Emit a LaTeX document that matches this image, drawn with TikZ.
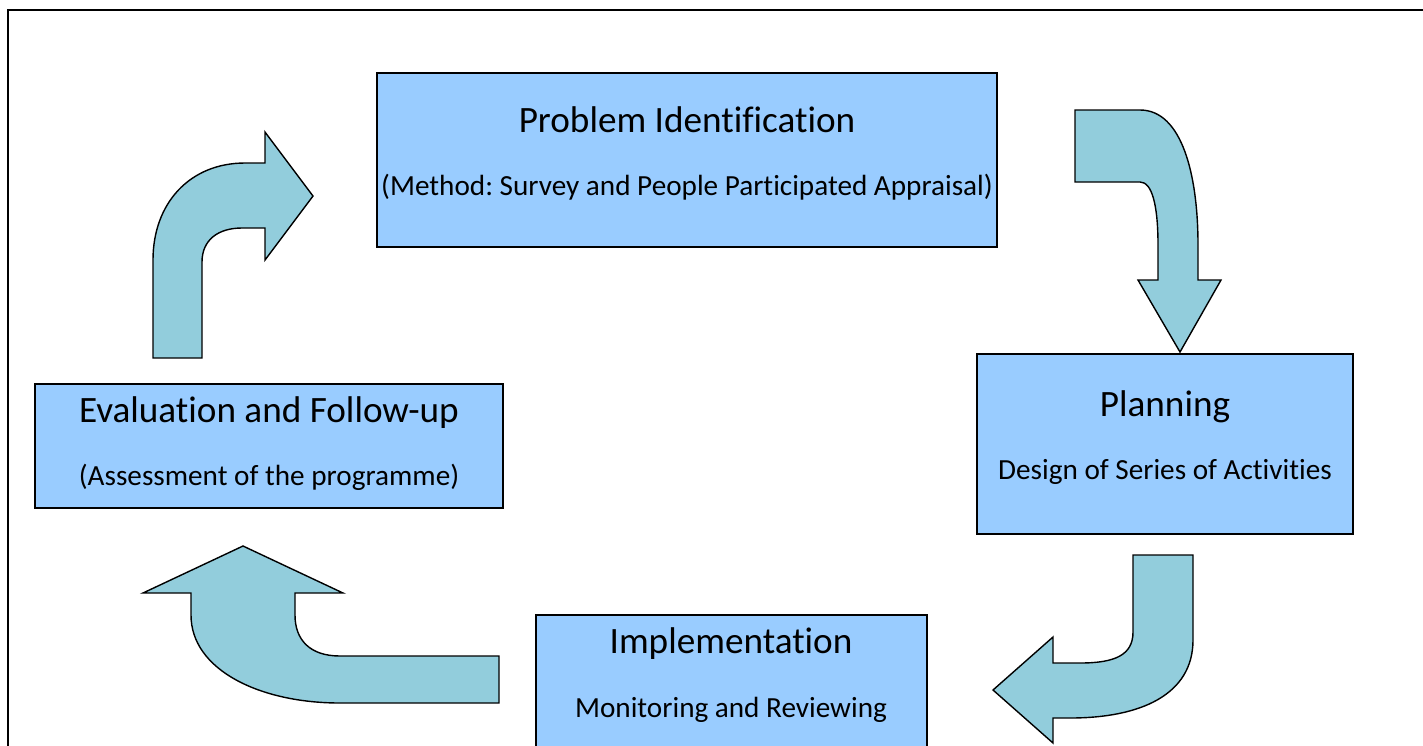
\documentclass[tikz,border=0pt]{standalone}
\usepackage{fontspec}
\setmainfont{Carlito}[Ligatures=NoCommon]
\frenchspacing
\definecolor{boxblue}{RGB}{153,204,255}
\definecolor{arrowteal}{RGB}{146,205,220}
\tikzset{
  stagebox/.style={draw=black, line width=1pt, fill=boxblue, rectangle, inner sep=0pt},
  titletext/.style={font=\fontsize{18.6}{22}\selectfont, inner sep=0pt},
  subtext/.style={font=\fontsize{14.6}{17}\selectfont, inner sep=0pt},
  bentarrow/.style={draw=black, line width=0.7pt, fill=arrowteal, line join=miter},
}
\begin{document}
\begin{tikzpicture}[x=0.5pt, y=-0.5pt]
\useasboundingbox (0,0) rectangle (1423,745);
\clip (0,0) rectangle (1423,745);
% outer frame
\draw[line width=1.3pt] (8,10) rectangle (1450,770);
% boxes
\node[stagebox, minimum width=310pt, minimum height=87pt] (prob) at (687,160) {};
\node[stagebox, minimum width=188pt, minimum height=90pt] (plan) at (1165,444) {};
\node[stagebox, minimum width=234pt, minimum height=62pt] (eval) at (269,446) {};
\node[stagebox, minimum width=195.5pt, minimum height=80pt] (impl) at (731.5,695) {};
% texts
\node[titletext] (probT) at (687,120) {Problem Identification};
\node[subtext] (probS) at (687,187) {(Method: Survey and People Participated Appraisal)};
\node[titletext] (planT) at (1165,407) {Planning};
\node[subtext] (planS) at (1165,472) {Design of Series of Activities};
\node[titletext] (evalT) at (269,413) {Evaluation and Follow-up};
\node[subtext] (evalS) at (269,477) {(Assessment of the programme)};
\node[titletext] (implT) at (731,644) {Implementation};
\node[subtext] (implS) at (731,710) {Monitoring and Reviewing};
% arrow 1: up then right
\draw[bentarrow] (153,358) -- (153,260) .. controls (153,203) and (190,163) .. (245,163)
  -- (265,163) -- (265,132) -- (313,196) -- (265,260) -- (265,228) -- (242,228)
  .. controls (218,228) and (202,240) .. (202,262) -- (202,358) -- cycle;
% arrow 2: right then down
\draw[bentarrow] (1075,110) -- (1140,110) .. controls (1182,110) and (1198,175) .. (1198,245)
  -- (1198,280) -- (1221,280) -- (1180,352) -- (1138,280) -- (1158,280) -- (1158,245)
  .. controls (1158,205) and (1152,182) .. (1140,182) -- (1075,182) -- cycle;
% arrow 3: down then left
\draw[bentarrow] (1133,555) -- (1193,555) -- (1193,640) .. controls (1193,695) and (1140,718) .. (1070,718)
  -- (1053,718) -- (1053,743) -- (993,690) -- (1053,637) -- (1053,663) -- (1080,663)
  .. controls (1115,663) and (1133,655) .. (1133,632) -- cycle;
% arrow 4: left then up
\draw[bentarrow] (499,656) -- (340,656) .. controls (310,656) and (295,640) .. (295,615)
  -- (295,593) -- (343,593) -- (243,546) -- (143,593) -- (191,593) -- (191,615)
  .. controls (191,670) and (260,703) .. (340,703) -- (499,703) -- cycle;
\end{tikzpicture}
\end{document}
